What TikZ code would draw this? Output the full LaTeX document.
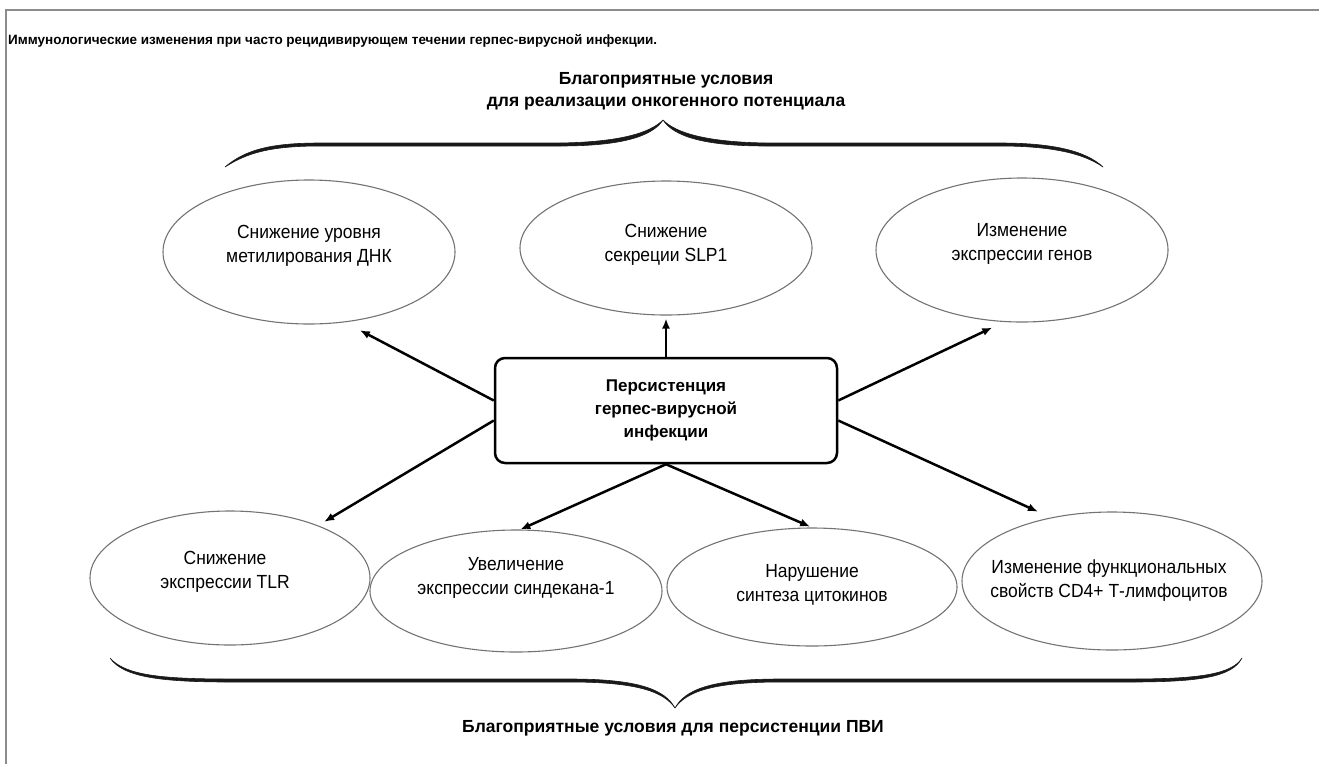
\documentclass[tikz,border=0pt]{standalone}
\usepackage{fontspec}
\setmainfont{Liberation Sans}
\newfontfamily\narrowfont[FakeStretch=0.92]{Liberation Sans}
\usetikzlibrary{shapes.geometric,arrows.meta}
\begin{document}
\begin{tikzpicture}[x=1pt,y=-1pt,
  ell/.style={ellipse, draw=black!55, line width=1.1pt, inner sep=0pt},
  lbl/.style={align=center, inner sep=0pt, font=\narrowfont\fontsize{19}{24}\selectfont},
  head/.style={align=center, inner sep=0pt, font=\bfseries\fontsize{17.5}{22}\selectfont},
  core/.style={draw=black, line width=2.5pt, rounded corners=10pt, minimum width=342pt, minimum height=105pt, align=center, font=\bfseries\fontsize{17}{23}\selectfont},
  arr/.style={line width=2.5pt, -{Latex[length=10pt,width=8pt]}},
  bracefill/.style={fill=black!90, draw=black!90, line width=0.6pt, line join=round},
  frame/.style={draw=black!45, line width=2pt}]
\useasboundingbox (0,0) rectangle (1319,764);
% frame
\draw[frame] (6,764) -- (6,10) -- (1319,10);
% title
\node[anchor=west, inner sep=0pt, font=\bfseries\fontsize{13.5}{15}\selectfont] (title) at (8,41)
  {Иммунологические изменения при часто рецидивирующем течении герпес-вирусной инфекции.};
% top heading
\node[head] (toph) at (666,91) {Благоприятные условия\\для реализации онкогенного потенциала};
% top brace
\path[bracefill] (225,167) .. controls (245,150) and (270,143) .. (320,143) -- (560,143)
  .. controls (620,142) and (650,133) .. (663,120)
  .. controls (676,133) and (706,142) .. (766,143) -- (1000,143)
  .. controls (1050,143) and (1085,150) .. (1103,167)
  .. controls (1083,153) and (1050,146) .. (1000,146) -- (766,146)
  .. controls (706,146) and (674,137) .. (663,120)
  .. controls (652,137) and (620,146) .. (560,146) -- (320,146)
  .. controls (270,146) and (247,153) .. (225,167) -- cycle;
% central box
\node[core] (box) at (666,410.5) {Персистенция\\герпес-вирусной\\инфекции};
% top ellipses
\node[ell, minimum width=292pt, minimum height=144pt] (e1) at (309,252) {};
\node[lbl] (t1) at (309,246) {Снижение уровня\\метилирования ДНК};
\node[ell, minimum width=292pt, minimum height=134pt] (e2) at (666,248) {};
\node[lbl] (t2) at (666,245) {Снижение\\секреции SLP1};
\node[ell, minimum width=292pt, minimum height=144pt] (e3) at (1022,250) {};
\node[lbl] (t3) at (1022,243.5) {Изменение\\экспрессии генов};
% bottom ellipses
\node[ell, minimum width=280pt, minimum height=134pt] (e4) at (230,578) {};
\node[lbl] (t4) at (225,571.5) {Снижение\\экспрессии TLR};
\node[ell, minimum width=292pt, minimum height=122pt] (e5) at (516,591) {};
\node[lbl] (t5) at (516,577.5) {Увеличение\\экспрессии синдекана-1};
\node[ell, minimum width=290pt, minimum height=118pt] (e6) at (812,587) {};
\node[lbl] (t6) at (812,584.5) {Нарушение\\синтеза цитокинов};
\node[ell, minimum width=300pt, minimum height=138pt] (e7) at (1112,581) {};
\node[lbl] (t7) at (1109,580.5) {Изменение функциональных\\свойств CD4+ Т-лимфоцитов};
% arrows
\draw[arr, shorten >=17pt] ([yshift=10pt]box.west) -- (e1.-63);
\draw[arr, shorten >=3pt] (box.north) -- (e2.south);
\draw[arr, shorten >=13pt] ([yshift=10pt]box.east) -- (e3.-104);
\draw[arr, shorten >=7pt] ([yshift=-10pt]box.west) -- (e4);
\draw[arr] (box.south) -- (e5.86);
\draw[arr, shorten >=2pt] (box.south) -- (e6.north);
\draw[arr, shorten >=14pt] ([yshift=-10pt]box.east) -- (e7.134);
% bottom brace
\path[bracefill] (110,658) .. controls (125,675) and (160,679) .. (230,679) -- (570,679)
  .. controls (640,679) and (665,690) .. (675,708)
  .. controls (685,690) and (710,679) .. (780,679) -- (1130,679)
  .. controls (1200,679) and (1232,674) .. (1242,658)
  .. controls (1232,677) and (1200,682) .. (1130,682) -- (780,682)
  .. controls (712,682) and (686,692) .. (675,708)
  .. controls (664,692) and (638,682) .. (570,682) -- (230,682)
  .. controls (160,682) and (123,677) .. (110,658) -- cycle;
\node[head] (both) at (673,728) {Благоприятные условия для персистенции ПВИ};
\end{tikzpicture}
\end{document}
